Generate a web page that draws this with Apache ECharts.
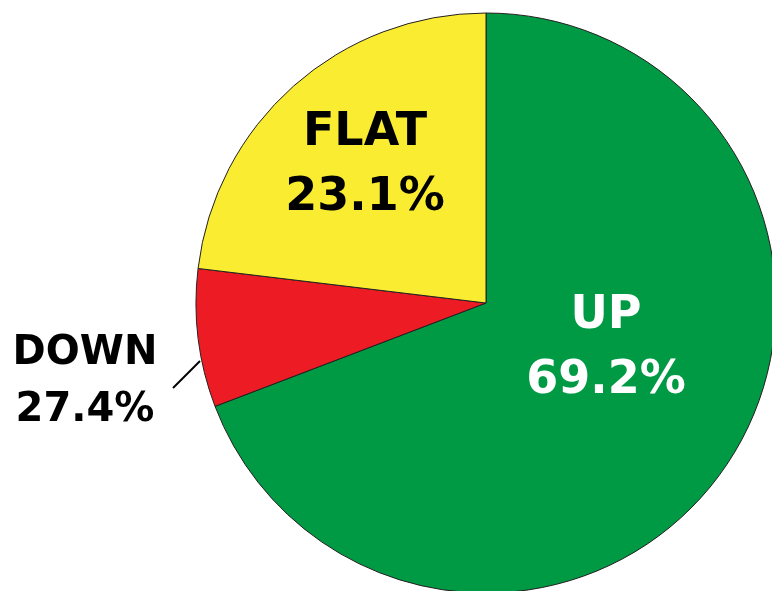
<!DOCTYPE html>
<html>
<head>
<meta charset="utf-8">
<script src="https://cdn.jsdelivr.net/npm/echarts@6/dist/echarts.min.js"></script>
<style>
  html, body { margin: 0; padding: 0; background: #fff; }
  #chart { width: 772px; height: 591px; }
</style>
</head>
<body>
<div id="chart"></div>
<script>
// 数据
var names = ['UP', 'DOWN', 'FLAT'];
var values = [69.2, 7.7, 23.1];          // slice sizes as drawn
var labelTexts = ['69.2%', '27.4%', '23.1%']; // printed percentages
var colors = ['#009a44', '#ed1c24', '#f9ec31'];
var textColors = ['#ffffff', '#000000', '#000000'];
var fontSizes = [46, 40, 46];
var lineHeights = [65, 57, 65];

// label anchor points (pixels)
var labelPos = [[606, 349], [85, 382], [365, 166]];

var chart = echarts.init(document.getElementById('chart'));

var data = names.map(function (n, i) {
  return {
    name: n,
    value: values[i],
    itemStyle: { color: colors[i] },
    label: { color: textColors[i], fontSize: fontSizes[i], lineHeight: lineHeights[i] },
    labelLine: { show: i === 1 }
  };
});

var option = {
  animation: false,
  series: [
    {
      type: 'pie',
      center: [486, 303],
      radius: 290,
      startAngle: 90,
      clockwise: true,
      avoidLabelOverlap: false,
      itemStyle: { borderColor: '#231f20', borderWidth: 1 },
      label: {
        show: true,
        position: 'outside',
        overflow: 'none',
        fontFamily: 'DejaVu Sans',
        fontWeight: 'bold',
        align: 'center',
        formatter: function (p) {
          return p.name + '\n' + labelTexts[p.dataIndex];
        }
      },
      labelLine: {
        show: true,
        lineStyle: { color: '#000', width: 2 }
      },
      labelLayout: function (p) {
        var pos = labelPos[p.dataIndex];
        var res = { x: pos[0], y: pos[1], align: 'center', verticalAlign: 'middle' };
        if (p.dataIndex === 1) {
          res.labelLinePoints = [[200, 361], [187, 374], [173, 388]];
        }
        return res;
      },
      data: data
    }
  ]
};
chart.setOption(option);
</script>
</body>
</html>
